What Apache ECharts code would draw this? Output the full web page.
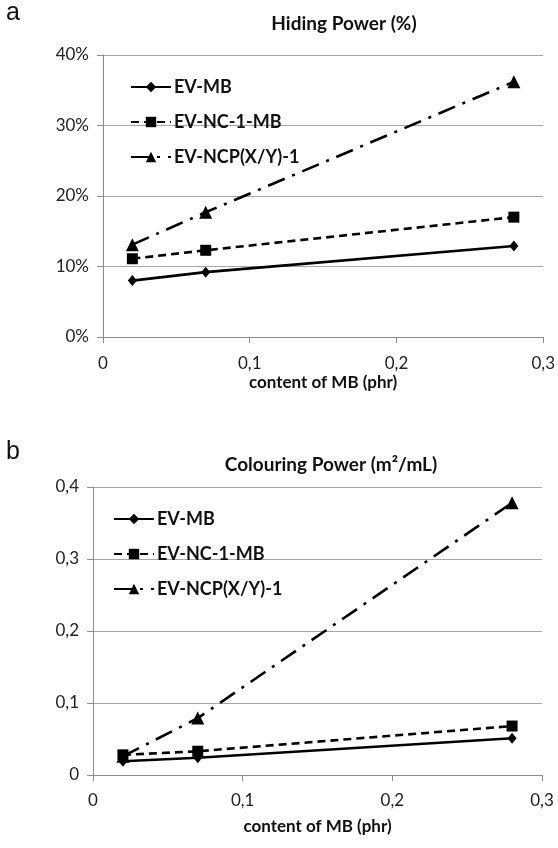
<!DOCTYPE html>
<html><head><meta charset="utf-8">
<script src="https://cdn.jsdelivr.net/npm/echarts@6/dist/echarts.min.js"></script>
<style>html,body{margin:0;padding:0;background:#fff}#c{width:558px;height:848px}</style>
</head><body><div id="c"></div>
<script>
// ---- data ----
const xValues = [0.02, 0.07, 0.28];
const seriesNames = ['EV-MB', 'EV-NC-1-MB', 'EV-NCP(X/Y)-1'];
const hidingEVMB = [8.0, 9.2, 12.9];
const hidingEVNC = [11.1, 12.3, 17.0];
const hidingEVNCP = [13.1, 17.7, 36.2];
const colourEVMB = [0.019, 0.024, 0.051];
const colourEVNC = [0.028, 0.033, 0.068];
const colourEVNCP = [0.026, 0.079, 0.378];
const xTicks = ['0', '0,1', '0,2', '0,3'];
const hidingTicks = ['0%', '10%', '20%', '30%', '40%'];
const colourTicks = ['0', '0,1', '0,2', '0,3', '0,4'];
const titleA = 'Hiding Power (%)';
const titleB = 'Colouring Power (m²/mL)';
const xName = 'content of MB (phr)';

const FONT = 'Lato';
const pairs = v => xValues.map((x, i) => [x, v[i]]);
const styles = [
  {symbol: 'diamond', symbolSize: [9, 11], type: 'solid'},
  {symbol: 'rect', symbolSize: 11, type: [8, 5]},
  {symbol: 'triangle', symbolSize: 13, type: [18, 8, 3, 8]}
];
function mkSeries(name, data, idx, axis) {
  const s = styles[idx];
  return {
    name, type: 'line', xAxisIndex: axis, yAxisIndex: axis, data: pairs(data),
    symbol: s.symbol, symbolSize: s.symbolSize, showAllSymbol: true,
    lineStyle: {color: '#000', width: 2.6, type: s.type},
    itemStyle: {color: '#000'}, animation: false, z: 3 - idx
  };
}
const axisGray = '#8c8c8c';
function xAxis(gi, margin, nameGap) {
  return {
    type: 'value', gridIndex: gi, min: 0, max: 0.3, interval: 0.1,
    axisLine: {show: true, lineStyle: {color: axisGray, width: 1}},
    axisTick: {show: true, length: 6, lineStyle: {color: axisGray}},
    splitLine: {show: false},
    axisLabel: {margin, fontFamily: FONT, fontSize: 17, color: '#222',
      formatter: v => xTicks[Math.round(v / 0.1)]},
    name: xName, nameLocation: 'middle', nameGap,
    nameTextStyle: {fontFamily: FONT, fontSize: 17, fontWeight: 'bold', color: '#111'}
  };
}
function yAxis(gi, max, interval, ticks) {
  return {
    type: 'value', gridIndex: gi, min: 0, max, interval,
    axisLine: {show: true, lineStyle: {color: axisGray, width: 1}},
    axisTick: {show: true, length: 6, lineStyle: {color: axisGray}},
    splitLine: {show: true, lineStyle: {color: '#a6a6a6', width: 1}},
    axisLabel: {margin: 14, fontFamily: FONT, fontSize: 17, color: '#222',
      formatter: v => ticks[Math.round(v / interval)]}
  };
}
function legend(left, top) {
  return {
    orient: 'vertical', left, top, itemGap: 17, itemWidth: 40, itemHeight: 13,
    data: seriesNames, selectedMode: false,
    textStyle: {fontFamily: FONT, fontSize: 18, fontWeight: 'bold', color: '#111', padding: [0, 0, 0, -2]}
  };
}
const chart = echarts.init(document.getElementById('c'), null, {renderer: 'canvas'});
chart.setOption({
  backgroundColor: '#fff',
  animation: false,
  title: [
    {text: titleA, left: 339, top: 9, textAlign: 'center',
      textStyle: {fontFamily: FONT, fontSize: 19, fontWeight: 'bold', color: '#111'}},
    {text: titleB, left: 326, top: 450, textAlign: 'center',
      textStyle: {fontFamily: FONT, fontSize: 19, fontWeight: 'bold', color: '#111'}}
  ],
  graphic: [
    {type: 'text', left: 6, top: 1, style: {text: 'a', font: '25px "Liberation Sans"', fill: '#111'}},
    {type: 'text', left: 6, top: 440, style: {text: 'b', font: '25px "Liberation Sans"', fill: '#111'}}
  ],
  grid: [
    {left: 103, right: 14, top: 55, height: 282},
    {left: 93, right: 16, top: 487, height: 288}
  ],
  legend: [legend(125, 73), legend(108, 505)],
  xAxis: [xAxis(0, 18, 37), xAxis(1, 17, 43)],
  yAxis: [yAxis(0, 40, 10, hidingTicks), yAxis(1, 0.4, 0.1, colourTicks)],
  series: [
    mkSeries(seriesNames[0], hidingEVMB, 0, 0),
    mkSeries(seriesNames[1], hidingEVNC, 1, 0),
    mkSeries(seriesNames[2], hidingEVNCP, 2, 0),
    mkSeries(seriesNames[0], colourEVMB, 0, 1),
    mkSeries(seriesNames[1], colourEVNC, 1, 1),
    mkSeries(seriesNames[2], colourEVNCP, 2, 1)
  ]
});
</script></body></html>
